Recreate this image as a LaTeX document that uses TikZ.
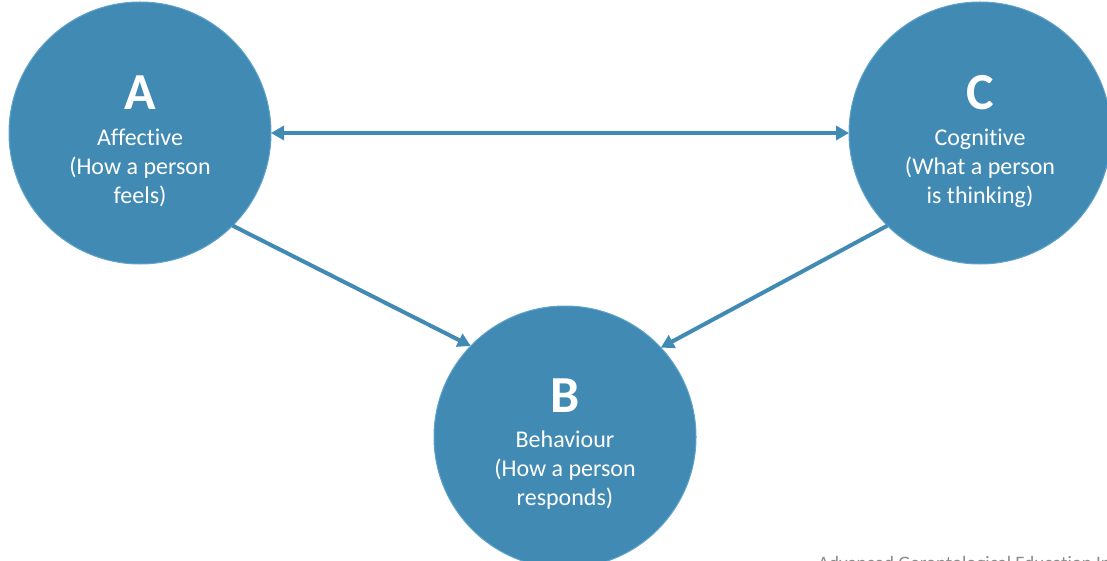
\documentclass[tikz,border=0pt]{standalone}
\usepackage{fontspec}
\setmainfont{Carlito}[Ligatures={NoCommon,NoRare}]
\usetikzlibrary{arrows.meta}
\definecolor{bulle}{HTML}{418AB3}
\definecolor{bord}{HTML}{5FA3CB}
\definecolor{pied}{HTML}{8C8C8C}

\begin{document}
\begin{tikzpicture}[x=1pt, y=-1pt,
    main/.style = {circle, fill=bulle, draw=bord, line width=1pt, minimum size=262pt, inner sep=0pt, outer sep=0pt},
    texte/.style = {text=white, align=center, font=\fontsize{24}{29}\selectfont},
    lettre/.style = {text=white, font=\fontsize{52}{56}\selectfont\bfseries},
    fleche/.style = {draw=bulle, line width=4pt, -{Triangle[length=13pt,width=14pt]}}]
                \useasboundingbox (0,0) rectangle (1107,561);

                % Cercles
                \node[main] (A) at (140,133) {};
                \node[main] (C) at (980,133) {};
                \node[main] (B) at (565,437) {};

                % Textes
                \node[lettre, anchor=base] (lA) at (140,110) {A};
                \node[lettre, anchor=base] (lC) at (980,110) {C};
                \node[lettre, anchor=base] (lB) at (565,412) {B};
                \node[texte, anchor=north] (tA) at (140,125) {Affective\\(How a person\\feels)};
                \node[texte, anchor=north] (tC) at (980,125) {Cognitive\\(What a person\\is thinking)};
                \node[texte, anchor=north] (tB) at (565,427) {Behaviour\\(How a person\\responds)};

                % Flèches
                \draw[fleche, {Triangle[length=13pt,width=14pt]}-{Triangle[length=13pt,width=14pt]}] (A) -- (C);
                \draw[fleche] (A.-45) -- (B.136);
                \draw[fleche] (C.-135) -- (B.43);

                % Pied de page
                \node[anchor=base west, text=pied, font=\fontsize{19}{22}\selectfont, inner sep=0pt] (pied) at (818,569) {Advanced Gerontological Education Inc.};
\end{tikzpicture}
\end{document}
